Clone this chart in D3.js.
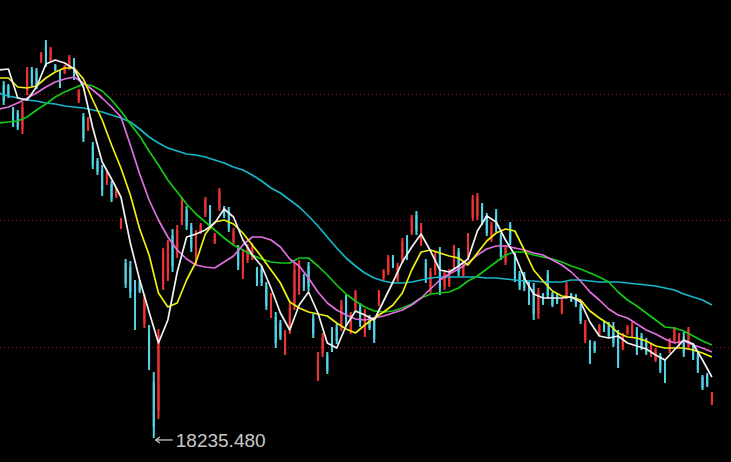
<!DOCTYPE html>
<html><head><meta charset="utf-8">
<script src="https://cdn.jsdelivr.net/npm/d3@7"></script>
<style>html,body{margin:0;padding:0;background:#000;overflow:hidden}</style>
</head><body><svg id="c" width="731" height="462"></svg>
<script>
// daily candles (index order), price units
const opens = [24389,24236,24219,23811,23760,23488,24134,24491,24474,24644,24933,24661,24576,24440,24440,24525,24644,23964,23692,23488,
23199,22944,22791,22570,22553,22349,21822,21210,21142,20802,20887,20190,20037,19187,18700,20853,21006,21686,21380,21924,
22111,21822,21261,21737,22043,22145,21567,22145,22145,22094,21567,21448,21006,21261,21312,21091,21108,20819,20343,20292,
20190,19714,20088,20530,20751,20972,21159,20275,19272,19680,19646,20054,20122,20139,20581,20054,20445,20462,20020,20292,
20224,20513,20955,21057,21312,20938,21278,21618,21737,22026,21550,21210,20768,21074,21363,20802,20853,21176,21397,21006,
21329,21992,22009,22179,22009,21618,22077,21652,21227,21856,21312,21023,21006,20836,20768,20343,20666,21023,20683,20666,
20377,20649,20683,20649,20462,19901,19833,19850,20003,20190,20173,20139,19969,19782,20020,19969,20054,19969,19884,19646,
19561,19629,19510,19714,19884,19816,19969,19782,19799,19629,19272,19306,18830];
const highs = [24457,24304,24253,23862,23811,23947,24542,24542,24525,24797,25001,24882,24593,24491,24576,24746,24695,24168,23760,23692,
23267,22995,22876,22791,22604,22502,21975,21278,21244,20921,20921,20683,20156,19357,20088,21465,21601,21788,21856,22332,
22179,21890,21771,21890,22332,22196,21720,22485,22179,22162,21805,21516,21448,21533,21550,21142,21159,20887,20700,20377,
20241,20071,20530,21210,21261,21023,21227,20343,19697,20020,19697,20122,20173,20581,20666,20377,20751,20530,20428,20326,
20292,20751,21108,21346,21346,21210,21635,21686,22026,22094,21890,21278,21125,21414,21482,21091,21108,21516,21465,21227,
21720,22366,22400,22230,22060,21907,22128,21720,21516,21907,21380,21074,21057,20887,20870,20785,20700,21091,20717,20700,
20615,20887,20700,20683,20513,20241,19901,19884,20173,20224,20207,20207,20071,20020,20156,20207,20122,20020,19935,19850,
19765,19680,19561,19935,20122,20020,20037,20122,19850,19680,19306,19340,19017];
const lows = [24015,23896,24015,23522,23471,23403,24066,24219,24168,24610,24542,24627,24474,24185,24423,24491,24321,23930,23267,23454,
22808,22706,22349,22536,22247,22315,21788,20785,20615,20071,20700,20105,19391,18235.48,18558,20751,20904,21057,21295,21856,
21771,21397,21176,21703,21992,21839,21533,22094,21975,21737,21516,21091,20938,21210,21261,20819,20819,20411,20275,19765,
19901,19646,20003,20411,20666,20734,20734,19935,19204,19612,19323,19697,19833,20054,20139,20003,20394,20122,19952,20071,
19850,20479,20921,21006,21125,20887,21210,21261,21686,21686,21499,20870,20700,21006,20666,20751,20802,21108,20989,20972,
21261,21924,21941,21856,21669,21567,21737,21261,21176,21516,20887,20751,20734,20496,20241,20258,20496,20598,20462,20513,
20343,20598,20547,20462,20173,19850,19493,19680,19969,20037,19935,19782,19425,19731,19986,19935,19646,19731,19646,19612,
19527,19340,19170,19680,19850,19782,19612,19731,19561,19340,19051,19102,18796];
const closes = [24083,23964,24049,23573,23522,23862,24474,24270,24219,24763,24610,24848,24491,24236,24559,24712,24372,24134,23335,23658,
22876,22757,22434,22757,22298,22468,21941,20853,20717,20190,20734,20598,19510,18420,19960,21363,21499,21159,21771,22264,
21839,21465,21686,21856,22281,21890,21686,22434,22009,21805,21754,21159,21380,21482,21499,20870,20870,20479,20632,19850,
19952,20003,20445,21091,21176,20785,20802,20003,19629,19952,19374,19765,19884,20496,20224,20326,20700,20190,20360,20105,
19918,20717,21074,21295,21159,21159,21567,21329,21975,21754,21839,20938,21057,21346,20785,21040,21057,21448,21057,21193,
21652,22298,22332,21907,21720,21856,21788,21329,21465,21567,20955,20802,20785,20547,20343,20700,20530,20666,20496,20547,
20581,20836,20564,20496,20224,20190,19561,19714,20139,20071,19969,19850,19527,19969,20122,20173,19714,19782,19697,19816,
19731,19391,19221,19901,20088,19986,19680,20071,19612,19391,19085,19136,18983];

// moving averages, one value every maStep candles
const maStep = 2;
const ma5 = [24491,24508,24015,23981,24202,24593,24661,24610,24508,24202,23505,22927,22638,22332,21550,20921,20377,19850,20241,21057,
21652,21703,21771,21890,22128,21992,21601,21346,21159,20785,20360,20071,20496,20717,20360,19850,19765,20139,20394,20326,
20241,20564,20887,21227,21482,21703,21414,21091,21057,21159,21278,21754,22009,21907,21601,21346,20955,20683,20615,20615,
20615,20632,20547,20207,19969,19935,19969,19850,19799,19748,19646,19561,19731,19901,19833,19561,19272];
const ma10 = [24355,24355,24202,24185,24219,24355,24457,24525,24525,24338,23981,23641,23216,22825,22366,21788,21346,20700,20462,20530,
20921,21227,21703,21907,21941,21873,21720,21516,21312,21091,20870,20547,20445,20377,20343,20309,20190,20088,20020,20156,
20275,20377,20496,20700,21091,21397,21431,21380,21329,21295,21176,21380,21584,21720,21788,21754,21431,21091,20904,20734,
20649,20632,20581,20394,20275,20173,20020,19952,19935,19884,19799,19765,19765,19765,19731,19680,19612];
const ma20 = [23828,23862,23930,24015,24100,24202,24287,24338,24372,24270,24151,24015,23862,23692,23216,22723,22281,21941,21652,21431,
21278,21176,21142,21125,21227,21329,21516,21652,21652,21601,21482,21278,21159,20955,20717,20530,20411,20326,20258,20241,
20275,20309,20360,20411,20496,20615,20768,20921,21023,21108,21210,21346,21448,21499,21499,21465,21431,21380,21346,21261,
21176,21057,20904,20717,20581,20428,20326,20275,20173,20071,20003,19918,19850,19884,19816,19765,19697];
const ma30 = [23590,23607,23624,23692,23811,23913,24032,24117,24185,24253,24219,24134,23981,23794,23573,23369,23114,22876,22621,22417,
22213,22043,21907,21771,21635,21516,21431,21346,21278,21227,21210,21210,21295,21295,21159,21006,20836,20683,20564,20462,
20394,20377,20394,20445,20513,20615,20683,20700,20717,20785,20904,20989,21108,21227,21346,21397,21397,21346,21312,21278,
21227,21159,21108,21040,20972,20887,20717,20581,20479,20360,20241,20122,20105,20054,19969,19884,19816];
const ma60 = [24100,24049,24015,23981,23964,23930,23913,23879,23862,23845,23811,23777,23726,23675,23607,23488,23352,23250,23165,23114,
23063,23046,23012,22961,22910,22842,22791,22706,22604,22485,22400,22281,22162,22009,21839,21652,21465,21295,21159,21040,
20955,20904,20870,20870,20887,20921,20955,20972,20972,20972,20972,20972,20955,20955,20938,20921,20904,20904,20887,20887,
20887,20921,20921,20904,20887,20887,20887,20870,20853,20836,20819,20785,20751,20683,20632,20581,20496];

const gridLevels = [24091, 21933, 19782];
const lowLabel = "18235.480";

const W = 731, H = 462;
const svg = d3.select("#c");
svg.append("rect").attr("width", W).attr("height", H).attr("fill", "#000");

const n = closes.length;
const x = d3.scaleLinear().domain([0, n - 1]).range([-1, 711.9]);
const y = d3.scaleLinear().domain([25681, 25681 - 17 * H]).range([0, H]);

// grid
svg.append("g").selectAll("line").data(gridLevels).join("line")
  .attr("x1", 0).attr("x2", W)
  .attr("y1", d => Math.round(y(d)) + 0.5).attr("y2", d => Math.round(y(d)) + 0.5)
  .attr("stroke", "#8e1414").attr("stroke-width", 1).attr("stroke-dasharray", "1,3");

const idx = d3.range(n);
const up = i => closes[i] >= opens[i];
const colUp = "#f03434", colDn = "#52d4e6";

const cg = svg.append("g");
cg.selectAll("rect.w").data(idx).join("rect").attr("class", "w")
  .attr("x", i => x(i) - 1).attr("width", 2)
  .attr("y", i => y(highs[i])).attr("height", i => Math.max(1, y(lows[i]) - y(highs[i])))
  .attr("fill", i => up(i) ? colUp : colDn);
cg.selectAll("rect.b").data(idx).join("rect").attr("class", "b")
  .attr("x", i => x(i) - 1).attr("width", 2)
  .attr("y", i => y(Math.max(opens[i], closes[i])))
  .attr("height", i => Math.max(1, Math.abs(y(opens[i]) - y(closes[i]))))
  .attr("fill", i => up(i) ? colUp : colDn);

// moving averages
const line = d3.line().x((d, k) => x(k * maStep)).y(d => y(d));
const mas = [
  {v: ma60, c: "#17b6c9"},
  {v: ma30, c: "#16c816"},
  {v: ma20, c: "#e070e0"},
  {v: ma10, c: "#f0f010"},
  {v: ma5,  c: "#f2f2f2"}
];
svg.append("g").selectAll("path").data(mas).join("path")
  .attr("d", d => line(d.v)).attr("fill", "none")
  .attr("stroke", d => d.c).attr("stroke-width", 1.7).attr("stroke-linejoin", "round");

// low marker
const li = d3.minIndex(lows);
const lx = x(li), ly = y(lows[li]);
const mg = svg.append("g").attr("stroke", "#c8c8c8").attr("fill", "none").attr("stroke-width", 1.3);
mg.append("line").attr("x1", lx + 2).attr("x2", lx + 19).attr("y1", ly + 2).attr("y2", ly + 2);
mg.append("path").attr("d", `M${lx + 6},${ly - 1} L${lx + 2},${ly + 2} L${lx + 6},${ly + 5}`);
svg.append("text").attr("x", lx + 22).attr("y", ly + 9)
  .attr("fill", "#c8c8c8").attr("font-family", "Liberation Sans, Arial, sans-serif")
  .attr("font-size", 19).text(lowLabel);
</script></body></html>
